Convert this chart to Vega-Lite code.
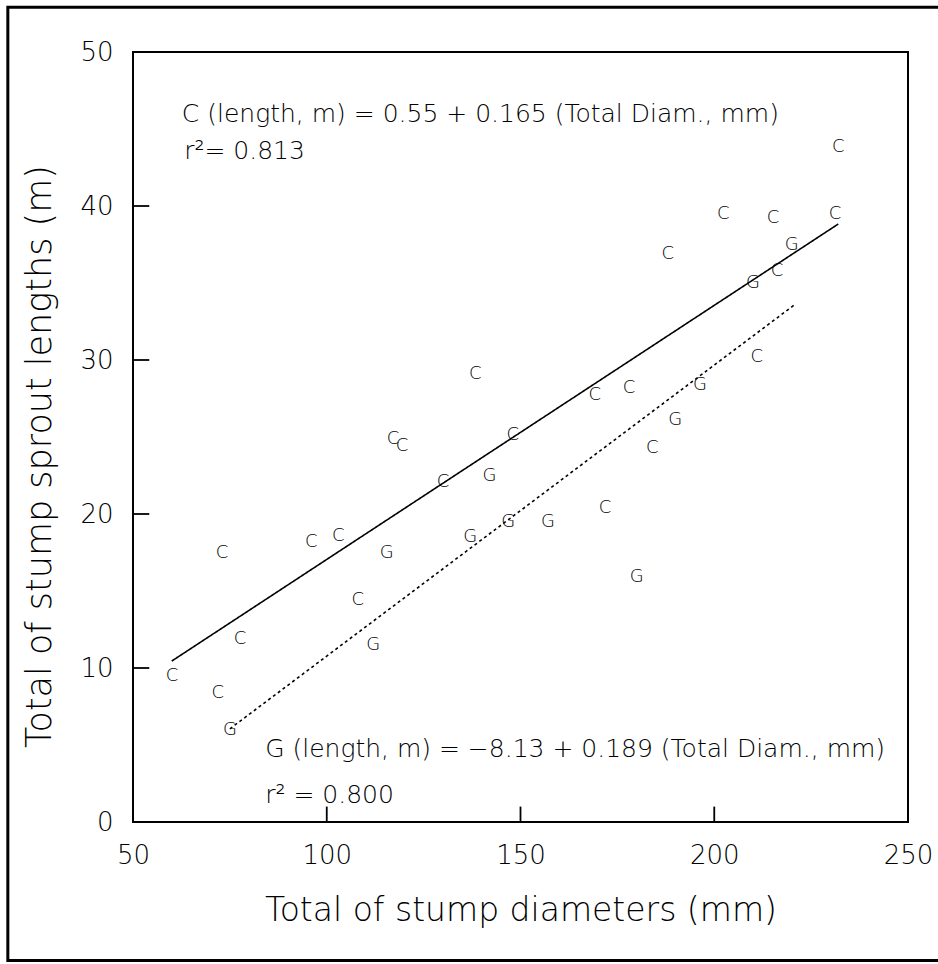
{
  "$schema": "https://vega.github.io/schema/vega-lite/v6.json",
  "width": 775,
  "height": 770,
  "autosize": {"type": "none"},
  "padding": {"left": 133, "top": 52, "right": 30, "bottom": 142},
  "background": "white",
  "config": {
    "font": "DejaVu Sans",
    "view": {"stroke": "black", "strokeWidth": 2},
    "axis": {"grid": false, "domain": false, "ticks": false, "labelFlush": false, "labelOverlap": false, "labelColor": "black", "titleColor": "black", "titleFontWeight": 200, "labelFontWeight": 200}
  },
  "datasets": {
    "border": [{"x1": 17.7, "x2": 280, "y1": -9.0, "y2": 52.9}],
    "yticks": [{"y": 10}, {"y": 20}, {"y": 30}, {"y": 40}],
    "xticks": [{"x": 100}, {"x": 150}, {"x": 200}],
    "fits": [
      {"grp": "C", "x": 60, "y": 10.45},
      {"grp": "C", "x": 232, "y": 38.83},
      {"grp": "G", "x": 75, "y": 6.05},
      {"grp": "G", "x": 221, "y": 33.64}
    ],
    "pts": [
      {"grp": "C", "x": 60.1, "y": 9.5},
      {"grp": "C", "x": 71.9, "y": 8.4},
      {"grp": "C", "x": 73, "y": 17.5},
      {"grp": "C", "x": 77.6, "y": 11.9},
      {"grp": "C", "x": 96, "y": 18.2},
      {"grp": "C", "x": 103, "y": 18.6},
      {"grp": "C", "x": 108, "y": 14.4},
      {"grp": "C", "x": 117.1, "y": 24.9},
      {"grp": "C", "x": 119.4, "y": 24.4},
      {"grp": "C", "x": 130, "y": 22.1},
      {"grp": "C", "x": 138.3, "y": 29.1},
      {"grp": "C", "x": 148, "y": 25.1},
      {"grp": "C", "x": 169.2, "y": 27.7},
      {"grp": "C", "x": 171.8, "y": 20.4},
      {"grp": "C", "x": 178, "y": 28.2},
      {"grp": "C", "x": 184, "y": 24.3},
      {"grp": "C", "x": 188, "y": 36.9},
      {"grp": "C", "x": 202.3, "y": 39.5},
      {"grp": "C", "x": 211, "y": 30.2},
      {"grp": "C", "x": 215.2, "y": 39.2},
      {"grp": "C", "x": 216.2, "y": 35.8},
      {"grp": "C", "x": 231.2, "y": 39.5},
      {"grp": "C", "x": 232, "y": 43.8},
      {"grp": "G", "x": 75, "y": 6.0},
      {"grp": "G", "x": 112, "y": 11.5},
      {"grp": "G", "x": 115.5, "y": 17.5},
      {"grp": "G", "x": 137, "y": 18.5},
      {"grp": "G", "x": 142, "y": 22.5},
      {"grp": "G", "x": 146.8, "y": 19.5},
      {"grp": "G", "x": 157.1, "y": 19.5},
      {"grp": "G", "x": 180, "y": 15.9},
      {"grp": "G", "x": 189.9, "y": 26.1},
      {"grp": "G", "x": 196.3, "y": 28.4},
      {"grp": "G", "x": 210, "y": 35.0},
      {"grp": "G", "x": 220, "y": 37.5}
    ],
    "notes": [
      {"x": 62.6, "y": 46.0, "label": "C (length, m) = 0.55 + 0.165 (Total Diam., mm)"},
      {"x": 63.2, "y": 43.6, "label": "r²= 0.813"},
      {"x": 84.1, "y": 4.74, "label": "G (length, m) = −8.13 + 0.189 (Total Diam., mm)"},
      {"x": 84.1, "y": 1.75, "label": "r² = 0.800"}
    ]
  },
  "layer": [
    {
      "data": {"name": "border"},
      "mark": {"type": "rect", "filled": false, "stroke": "black", "strokeWidth": 3, "clip": false},
      "encoding": {
        "x": {"field": "x1", "type": "quantitative", "scale": {"domain": [50, 250], "nice": false, "zero": false},
          "axis": {"values": [50, 100, 150, 200, 250], "title": "Total of stump diameters (mm)", "labelPadding": 20, "labelFontSize": 26, "titleFontSize": 33, "titlePadding": 26}},
        "x2": {"field": "x2"},
        "y": {"field": "y1", "type": "quantitative", "scale": {"domain": [0, 50], "nice": false, "zero": false},
          "axis": {"values": [0, 10, 20, 30, 40, 50], "title": "Total of stump sprout lengths (m)", "labelPadding": 20, "labelFontSize": 26, "titleFontSize": 35, "titlePadding": 22, "titleY": 404}},
        "y2": {"field": "y2"}
      }
    },
    {
      "data": {"name": "yticks"},
      "mark": {"type": "rule", "color": "black", "strokeWidth": 1.8},
      "encoding": {
        "x": {"datum": 50, "type": "quantitative"},
        "x2": {"datum": 54.2},
        "y": {"field": "y", "type": "quantitative"}
      }
    },
    {
      "data": {"name": "xticks"},
      "mark": {"type": "rule", "color": "black", "strokeWidth": 1.8},
      "encoding": {
        "y": {"datum": 0, "type": "quantitative"},
        "y2": {"datum": 1.0},
        "x": {"field": "x", "type": "quantitative"}
      }
    },
    {
      "data": {"name": "fits"},
      "mark": {"type": "line", "color": "black", "strokeWidth": 1.6},
      "encoding": {
        "x": {"field": "x", "type": "quantitative"},
        "y": {"field": "y", "type": "quantitative"},
        "detail": {"field": "grp"},
        "strokeDash": {"field": "grp", "type": "nominal", "scale": {"domain": ["C", "G"], "range": [[1, 0], [3, 3]]}, "legend": null}
      }
    },
    {
      "data": {"name": "pts"},
      "mark": {"type": "text", "fontSize": 18, "fontWeight": 200, "align": "center", "baseline": "middle", "color": "black"},
      "encoding": {
        "x": {"field": "x", "type": "quantitative"},
        "y": {"field": "y", "type": "quantitative"},
        "text": {"field": "grp"}
      }
    },
    {
      "data": {"name": "notes"},
      "mark": {"type": "text", "fontSize": 25, "fontWeight": 200, "align": "left", "baseline": "middle", "color": "black"},
      "encoding": {
        "x": {"field": "x", "type": "quantitative"},
        "y": {"field": "y", "type": "quantitative"},
        "text": {"field": "label"}
      }
    }
  ]
}
